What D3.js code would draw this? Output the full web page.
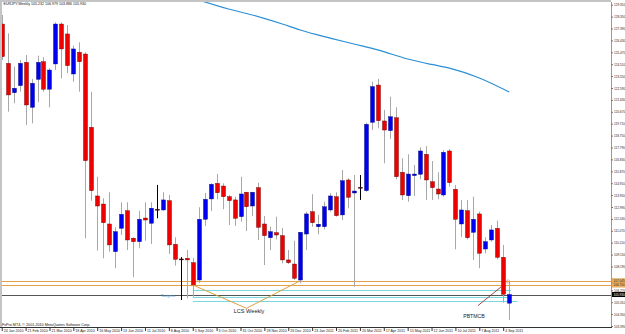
<!DOCTYPE html>
<html>
<head>
<meta charset="utf-8">
<script src="https://cdn.jsdelivr.net/npm/d3@7"></script>
<style>
body { margin: 0; background: #fff; }
svg { display: block; }
text { font-family: "Liberation Sans", Arial, sans-serif; }
</style>
</head>
<body>
<svg></svg>
<script>
var width = 625;
var height = 334;

// weekly candles, 24 Jan 2010 .. 11 Sep 2011 (index = week number)
var opens  = [127.75,124.58,122.21,122.78,124.66,121.03,123.29,124.71,122.49,124.53,127.75,126.95,123.72,125.47,125.33,119.42,113.88,113.23,111.62,109.39,111.27,112.69,110.47,110.19,112.10,111.68,112.81,112.75,113.50,109.98,108.80,108.85,108.50,107.10,112.00,113.64,114.90,114.68,113.82,113.56,112.21,114.18,113.07,114.55,111.62,110.51,110.92,110.68,108.72,108.39,107.10,110.81,112.61,111.40,111.40,112.75,113.82,112.35,115.17,114.12,114.58,114.31,119.82,122.83,119.93,119.15,120.19,115.79,113.90,115.52,115.63,117.24,115.03,114.44,113.96,117.51,114.42,111.62,112.69,110.95,112.43,109.60,110.33,111.27,108.93,105.232];
var highs  = [128.48,127.00,124.31,124.85,125.25,123.32,125.20,125.07,124.18,127.89,127.89,127.67,126.00,126.28,125.47,122.29,115.43,113.69,114.18,111.35,113.37,113.37,110.55,112.69,113.37,113.37,114.77,114.18,113.96,110.55,108.95,109.52,108.87,112.97,114.12,114.90,115.65,114.90,113.96,113.82,115.43,114.22,114.22,114.95,112.26,111.40,112.21,111.30,109.52,110.27,110.95,112.61,114.02,112.35,113.42,114.10,114.18,115.98,115.31,115.57,115.57,119.79,123.10,123.32,120.82,121.89,121.03,116.92,117.24,116.38,117.81,117.91,116.70,115.79,117.59,117.65,114.77,113.56,113.56,113.82,112.61,110.55,111.54,111.89,109.93,106.979];
var lows   = [124.85,120.68,121.36,122.29,119.61,119.74,121.44,122.29,121.03,124.04,123.37,123.78,123.10,122.29,110.47,113.50,109.47,108.85,109.39,108.05,110.73,109.52,107.32,109.66,110.27,110.01,112.08,112.70,109.20,108.26,105.49,105.63,105.75,106.86,111.46,112.67,113.61,112.81,111.54,111.46,111.80,111.05,112.26,110.33,108.31,109.52,110.38,108.45,108.39,107.10,106.84,109.52,111.40,110.79,111.19,112.61,112.21,111.94,112.89,106.56,113.56,114.22,119.20,119.34,116.52,118.48,115.22,113.56,113.42,113.88,115.22,113.56,113.56,113.61,113.82,114.63,109.58,110.59,110.38,108.72,108.05,109.26,110.19,108.77,105.27,103.886];
var closes = [125.12,122.03,122.57,124.58,121.22,122.97,124.66,122.49,124.04,127.75,125.74,124.39,125.74,124.71,116.73,114.31,113.07,111.72,109.93,111.00,112.40,110.33,110.19,112.00,111.94,112.89,112.81,113.56,109.93,108.77,108.80,108.72,106.70,112.00,113.61,114.82,114.14,113.82,113.50,112.08,114.04,113.01,114.18,111.35,110.68,111.00,110.73,108.72,108.50,107.24,110.95,112.43,111.72,111.60,113.01,113.88,112.29,115.11,113.77,114.28,114.58,119.66,122.70,119.95,119.20,120.27,115.43,113.96,115.65,115.65,117.51,115.17,114.55,114.04,117.40,114.95,112.00,112.75,110.51,112.00,109.26,110.19,111.14,108.93,105.95,105.930];

// moving average, read at a few weeks
var maWeeks  = [33, 38, 42, 47, 50, 55, 59, 63, 68, 72, 75, 80, 85];
var maValues = [129.69, 128.96, 128.48, 127.75, 127.27, 126.62, 126.14, 125.66, 124.93, 124.49, 124.20, 123.40, 122.27];

var dateWeeks  = [0,4,8,12,16,20,24,28,32,36,40,44,48,52,56,60,64,68,72,76,80,84];
var dateLabels = ["24 Jan 2010","21 Feb 2010","21 Mar 2010","18 Apr 2010","16 May 2010","13 Jun 2010","11 Jul 2010","8 Aug 2010","5 Sep 2010","3 Oct 2010","31 Oct 2010","28 Nov 2010","26 Dec 2010","23 Jan 2011","20 Feb 2011","20 Mar 2011","17 Apr 2011","15 May 2011","12 Jun 2011","10 Jul 2011","7 Aug 2011","4 Sep 2011"];

var priceTicks = [129.310,128.350,127.390,126.430,125.470,124.510,123.550,122.590,121.630,120.670,119.710,118.750,117.790,116.830,115.870,114.910,113.950,112.990,112.030,111.070,110.110,109.150,108.190,107.230,106.270,105.310,104.350,103.390];

// drawn objects
var orangeLevels = [107.045, 106.700];
var targetLevels = [106.295, 105.750, 105.440];
var targetEnds   = [85.3, 85.3, 86.4];
var currentPrice = 105.930;
var lcsPoints = [[32, 106.70], [41, 104.82], [50, 107.04]];

var svg = d3.select("svg")
    .attr("width", width)
    .attr("height", height);

var plotLeft = 2, plotRight = 611, plotTop = 2, plotBottom = 327;

var x = d3.scaleLinear().domain([0, 85]).range([1.7, 509.15]);
var y = d3.scaleLinear().domain([103.39, 129.31]).range([326, 4.7]);

svg.append("rect").attr("width", width).attr("height", height).attr("fill", "#fff");

svg.append("defs").append("clipPath").attr("id", "plot")
  .append("rect")
    .attr("x", plotLeft).attr("y", plotTop)
    .attr("width", plotRight - plotLeft).attr("height", plotBottom - plotTop);

var g = svg.append("g").attr("clip-path", "url(#plot)");

// horizontal objects
g.selectAll(".orange").data(orangeLevels).enter().append("line")
    .attr("x1", plotLeft).attr("x2", plotRight)
    .attr("y1", function(d) { return Math.round(y(d)) + 0.5; })
    .attr("y2", function(d) { return Math.round(y(d)) + 0.5; })
    .attr("stroke", "#e3a24a").attr("stroke-width", 1);

g.selectAll(".target").data(targetLevels).enter().append("line")
    .attr("x1", x(32))
    .attr("x2", function(d, i) { return x(targetEnds[i]); })
    .attr("y1", function(d) { return Math.round(y(d)) + 0.5; })
    .attr("y2", function(d) { return Math.round(y(d)) + 0.5; })
    .attr("stroke", "#79d9dc").attr("stroke-width", 1);

g.append("line")
    .attr("x1", plotLeft).attr("x2", plotRight)
    .attr("y1", Math.round(y(currentPrice)) + 0.5)
    .attr("y2", Math.round(y(currentPrice)) + 0.5)
    .attr("stroke", "#555").attr("stroke-width", 1);

// moving average
var maLine = d3.line()
    .x(function(d, i) { return x(maWeeks[i]); })
    .y(function(d) { return y(d); })
    .curve(d3.curveMonotoneX);

g.append("path")
    .datum(maValues)
    .attr("d", maLine)
    .attr("fill", "none")
    .attr("stroke", "#2b8fd5")
    .attr("stroke-width", 1.2);

// candles
var candles = d3.range(opens.length);

var node = g.selectAll(".candle")
    .data(candles)
  .enter().append("g")
    .attr("class", "candle")
    .attr("transform", function(i) { return "translate(" + Math.round(x(i)) + ",0)"; });

node.append("line")
    .attr("x1", 0.5).attr("x2", 0.5)
    .attr("y1", function(i) { return y(highs[i]); })
    .attr("y2", function(i) { return y(lows[i]); })
    .attr("stroke", function(i) { return opens[i] == closes[i] ? "#000" : "#a8a8a8"; })
    .attr("stroke-width", 1);

node.append("rect")
    .attr("x", -1.5)
    .attr("width", 4)
    .attr("y", function(i) { return y(Math.max(opens[i], closes[i])); })
    .attr("height", function(i) { return Math.max(1, Math.abs(y(opens[i]) - y(closes[i]))); })
    .attr("fill", function(i) {
      if (opens[i] == closes[i]) return "#000";
      return closes[i] > opens[i] ? "#0000f0" : "#ee0000";
    })
    .attr("stroke", function(i) { return closes[i] > opens[i] ? "#000070" : "#600000"; })
    .attr("stroke-width", 0.4);

// LCS Weekly V
g.append("path")
    .datum(lcsPoints)
    .attr("d", d3.line().x(function(d) { return x(d[0]); }).y(function(d) { return y(d[1]); }))
    .attr("fill", "none")
    .attr("stroke", "#e0a040")
    .attr("stroke-width", 1);

svg.append("text")
    .attr("x", 249).attr("y", 313)
    .attr("text-anchor", "middle")
    .attr("font-size", 5.6)
    .attr("fill", "#222")
    .text("LCS Weekly");

svg.append("text")
    .attr("x", 168).attr("y", 296.5)
    .attr("text-anchor", "middle")
    .attr("font-size", 4.4)
    .attr("fill", "#4a9ad8")
    .text("Targets");

// PBTMCB marker
svg.append("line")
    .attr("x1", 478).attr("y1", y(105.44) + 5)
    .attr("x2", x(84) - 2).attr("y2", y(106.55))
    .attr("stroke", "#8b1a1a").attr("stroke-width", 0.8);

svg.append("text")
    .attr("x", 474).attr("y", 317.5)
    .attr("text-anchor", "middle")
    .attr("font-size", 5.2)
    .attr("fill", "#222")
    .text("PBTMCB");

svg.append("circle")
    .attr("cx", x(85) - 1).attr("cy", y(106.979))
    .attr("r", 1.6)
    .attr("fill", "none").attr("stroke", "#e08060").attr("stroke-width", 0.6);

// frame
svg.append("rect").attr("x", 0).attr("y", 0).attr("width", plotRight).attr("height", 2).attr("fill", "#c4c4c4");
svg.append("rect").attr("x", 0).attr("y", 0).attr("width", 2).attr("height", plotBottom).attr("fill", "#c4c4c4");

// price axis; a tick hidden under an object's price box is not drawn
var boxPrices = orangeLevels.concat([currentPrice]);
var shownTicks = priceTicks.filter(function(t) {
  return boxPrices.every(function(p) { return Math.abs(y(t) - y(p)) > 4; });
});

var yAxis = svg.append("g")
    .attr("transform", "translate(" + plotRight + ",0)")
    .call(d3.axisRight(y).tickValues(shownTicks).tickSize(2).tickPadding(1).tickFormat(d3.format(".3f")));

yAxis.select(".domain").attr("stroke", "#999").attr("d", "M0.5," + plotTop + "V" + plotBottom);
yAxis.selectAll(".tick line").attr("stroke", "#777");
yAxis.selectAll(".tick text").attr("font-size", 3.1).attr("fill", "#222").attr("font-family", "Liberation Sans, Arial, sans-serif");

// price labels of objects
var boxes = svg.append("g");
orangeLevels.forEach(function(p) {
  boxes.append("rect")
      .attr("x", plotRight + 1).attr("y", y(p) - 2.2)
      .attr("width", width - plotRight).attr("height", 4.4)
      .attr("fill", "#f0b060").attr("stroke", "#d08a30").attr("stroke-width", 0.3);
  boxes.append("text")
      .attr("x", plotRight + 2.5).attr("y", y(p) + 1.1)
      .attr("font-size", 3.1).attr("fill", "#222")
      .text(d3.format(".3f")(p));
});
boxes.append("rect")
    .attr("x", plotRight + 1).attr("y", y(currentPrice) - 2.5)
    .attr("width", width - plotRight).attr("height", 5)
    .attr("fill", "#000");
boxes.append("text")
    .attr("x", plotRight + 2.5).attr("y", y(currentPrice) + 1.1)
    .attr("font-size", 3.1).attr("fill", "#fff")
    .text(d3.format(".3f")(currentPrice));

// time axis
var xAxis = svg.append("g")
    .attr("transform", "translate(0," + plotBottom + ")")
    .call(d3.axisBottom(x).tickValues(dateWeeks).tickSize(4).tickFormat(function(d, i) { return dateLabels[i]; }));

xAxis.select(".domain").attr("stroke", "#333").attr("d", "M0,0.5H" + (plotRight + 1));
xAxis.selectAll(".tick line").attr("stroke", "#333");
xAxis.selectAll(".tick text")
    .attr("text-anchor", "start")
    .attr("x", 1.5).attr("y", 2.3).attr("dy", "0.71em")
    .attr("font-size", 3.6).attr("fill", "#222")
    .attr("font-family", "Liberation Sans, Arial, sans-serif");

// header and footer
svg.append("text")
    .attr("x", 3.5).attr("y", 5.4)
    .attr("font-size", 3.6).attr("fill", "#111")
    .text("EURJPY,Weekly  105.232 106.979 103.886 105.930");

svg.append("text")
    .attr("x", 2).attr("y", 325.5)
    .attr("font-size", 3.7).attr("fill", "#111")
    .text("FxPro MT4, \u00a9 2001-2010 MetaQuotes Software Corp.");
</script>
</body>
</html>
